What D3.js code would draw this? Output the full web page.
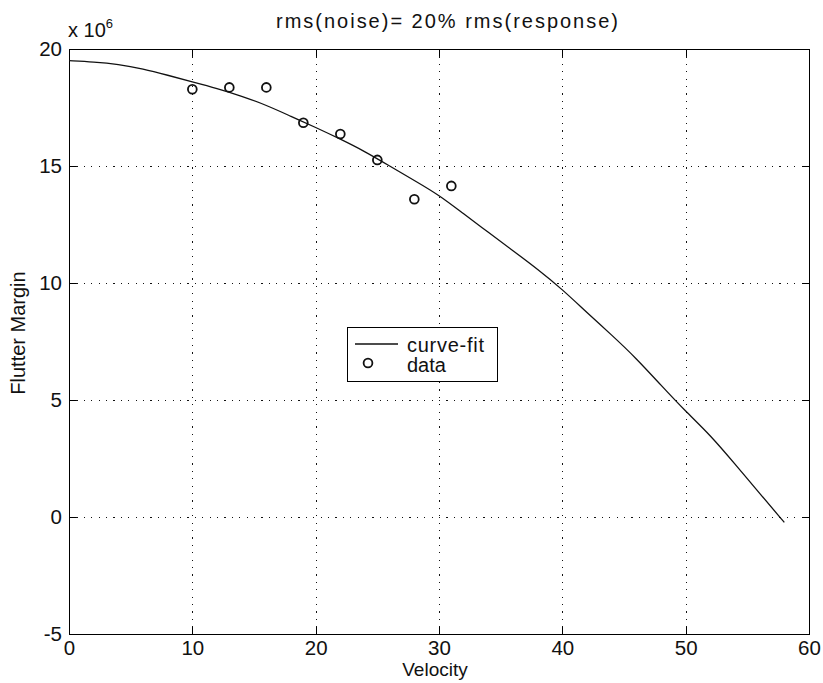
<!DOCTYPE html>
<html>
<head>
<meta charset="utf-8">
<script src="https://cdn.jsdelivr.net/npm/d3@7"></script>
<style>
  html, body { margin: 0; padding: 0; background: #fff; }
  svg { display: block; }
  text { font-family: "Liberation Sans", Arial, sans-serif; fill: #111; }
</style>
</head>
<body>
<svg id="chart" width="823" height="683"></svg>
<script>
// Measured flutter margin at each test velocity
const dataVelocity = [10, 13, 16, 19, 22, 25, 28, 31];
const dataMargin = [18.28, 18.36, 18.36, 16.85, 16.37, 15.26, 13.58, 14.15];

// Fitted curve, sampled every 2 velocity units
const fitVelocity = [0, 2, 4, 6, 8, 10, 12, 14, 16, 18, 20, 22, 24, 26, 28,
                     30, 32, 34, 36, 38, 40, 42, 44, 46, 48, 50, 52, 54, 56, 58];
const fitMargin = [19.50, 19.45, 19.35, 19.15, 18.88, 18.60, 18.32, 17.99, 17.60, 17.12,
                   16.65, 16.15, 15.62, 15.00, 14.38, 13.76, 12.95, 12.17, 11.38, 10.59,
                   9.73, 8.73, 7.78, 6.78, 5.63, 4.51, 3.50, 2.26, 1.01, -0.23];

const xTicks = [0, 10, 20, 30, 40, 50, 60];
const yTicks = [-5, 0, 5, 10, 15, 20];

const svg = d3.select("#chart");
const L = 69, T = 49, R = 809, B = 634;

const x = d3.scaleLinear().domain([0, 60]).range([L, R]);
const y = d3.scaleLinear().domain([-5, 20]).range([B, T]);
const fmt = d => String(d); // plain hyphen for negatives

// Dotted grid at interior ticks
const grid = svg.append("g").attr("shape-rendering", "crispEdges");
grid.selectAll(".gx").data(xTicks.slice(1, -1)).join("line")
  .attr("x1", d => Math.round(x(d)) + 0.5).attr("x2", d => Math.round(x(d)) + 0.5)
  .attr("y1", T).attr("y2", B)
  .attr("stroke", "#111").attr("stroke-width", 1.2).attr("stroke-dasharray", "1.2,6.2");
grid.selectAll(".gy").data(yTicks.slice(1, -1)).join("line")
  .attr("y1", d => Math.round(y(d)) + 0.5).attr("y2", d => Math.round(y(d)) + 0.5)
  .attr("x1", L).attr("x2", R)
  .attr("stroke", "#111").attr("stroke-width", 1.2).attr("stroke-dasharray", "1.2,6.2");

// Axes with inward ticks on all four sides
function styleAxis(g) {
  g.select(".domain").remove();
  g.selectAll(".tick line").attr("stroke", "#000").attr("shape-rendering", "crispEdges");
  g.selectAll(".tick text").attr("font-size", 20.5).attr("fill", "#111");
}
svg.append("g").attr("transform", `translate(0,${B})`)
  .call(d3.axisBottom(x).tickValues(xTicks).tickFormat(fmt)
    .tickSizeInner(-7).tickSizeOuter(0).tickPadding(6))
  .call(styleAxis);
svg.append("g").attr("transform", `translate(${L},0)`)
  .call(d3.axisLeft(y).tickValues(yTicks).tickFormat(fmt)
    .tickSizeInner(-7).tickSizeOuter(0).tickPadding(7))
  .call(styleAxis);
svg.append("g").attr("transform", `translate(0,${T})`)
  .call(d3.axisTop(x).tickValues(xTicks).tickSizeInner(-7).tickSizeOuter(0).tickFormat(""))
  .call(styleAxis);
svg.append("g").attr("transform", `translate(${R},0)`)
  .call(d3.axisRight(y).tickValues(yTicks).tickSizeInner(-7).tickSizeOuter(0).tickFormat(""))
  .call(styleAxis);

// Plot box
svg.append("rect")
  .attr("x", L + 0.5).attr("y", T + 0.5).attr("width", R - L).attr("height", B - T)
  .attr("fill", "none").attr("stroke", "#000").attr("stroke-width", 1.2)
  .attr("shape-rendering", "crispEdges");

// Curve fit
const fitPts = fitVelocity.map((v, i) => [v, fitMargin[i]]);
svg.append("path")
  .datum(fitPts)
  .attr("d", d3.line().x(d => x(d[0])).y(d => y(d[1])).curve(d3.curveBasis))
  .attr("fill", "none").attr("stroke", "#111").attr("stroke-width", 1.3);

// Data markers
svg.append("g").selectAll("circle")
  .data(dataVelocity.map((v, i) => [v, dataMargin[i]]))
  .join("circle")
  .attr("cx", d => x(d[0])).attr("cy", d => y(d[1])).attr("r", 4.4)
  .attr("fill", "none").attr("stroke", "#111").attr("stroke-width", 1.8);

// Exponent annotation
const ex = svg.append("text").attr("x", 68).attr("y", 37).attr("font-size", 20);
ex.append("tspan").text("x 10");
ex.append("tspan").attr("font-size", 13).attr("dy", -9).text("6");

// Title and axis labels
svg.append("text").attr("x", 447).attr("y", 28).attr("text-anchor", "middle")
  .attr("font-size", 20).attr("textLength", 342).attr("lengthAdjust", "spacing")
  .text("rms(noise)= 20% rms(response)");
svg.append("text").attr("x", 435).attr("y", 676).attr("text-anchor", "middle")
  .attr("font-size", 19).text("Velocity");
svg.append("text").attr("transform", "translate(25,333) rotate(-90)")
  .attr("text-anchor", "middle").attr("font-size", 20).text("Flutter Margin");

// Legend
const lg = svg.append("g");
lg.append("rect").attr("x", 347.5).attr("y", 327.5).attr("width", 150).attr("height", 54)
  .attr("fill", "#fff").attr("stroke", "#000").attr("stroke-width", 1.2)
  .attr("shape-rendering", "crispEdges");
lg.append("line").attr("x1", 355).attr("x2", 398).attr("y1", 344).attr("y2", 344)
  .attr("stroke", "#111").attr("stroke-width", 1.3);
lg.append("circle").attr("cx", 368).attr("cy", 363).attr("r", 4.4)
  .attr("fill", "none").attr("stroke", "#111").attr("stroke-width", 1.8);
lg.append("text").attr("x", 407).attr("y", 352).attr("font-size", 20)
  .attr("textLength", 77).attr("lengthAdjust", "spacing").text("curve-fit");
lg.append("text").attr("x", 407).attr("y", 372).attr("font-size", 20).text("data");
</script>
</body>
</html>
